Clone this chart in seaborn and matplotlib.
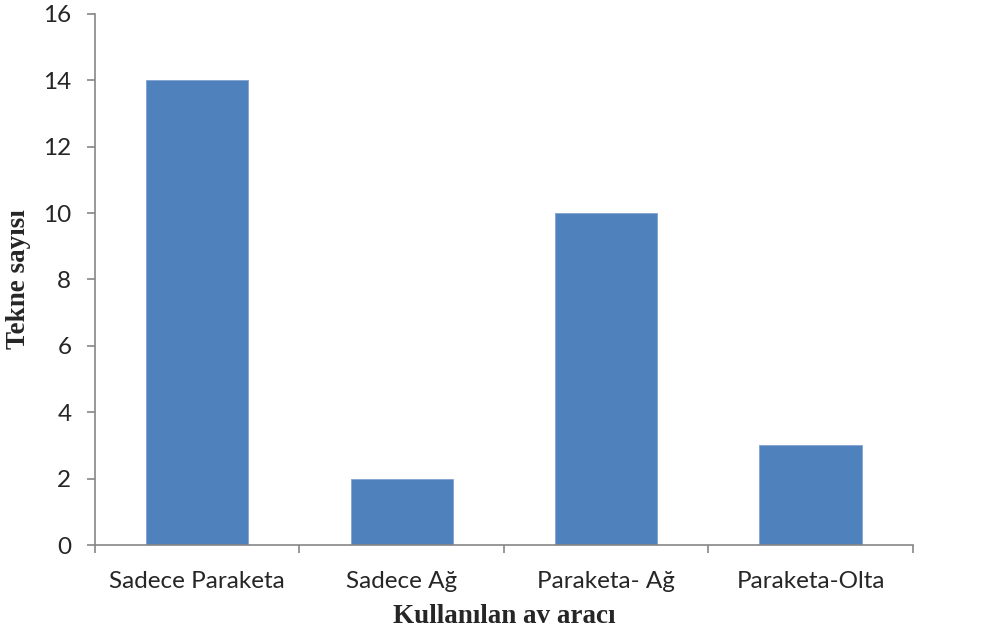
import matplotlib
matplotlib.use("Agg")
import matplotlib.pyplot as plt
import seaborn as sns
import pandas as pd

# data
categories = ["Sadece Paraketa", "Sadece Ağ", "Paraketa- Ağ", "Paraketa-Olta"]
boat_counts = [14, 2, 10, 3]
y_ticks = [0, 2, 4, 6, 8, 10, 12, 14, 16]

df = pd.DataFrame({"Kullanılan av aracı": categories, "Tekne sayısı": boat_counts})

sns.set_style("white")
plt.rcParams["font.family"] = ["Lato", "DejaVu Sans"]

fig = plt.figure(figsize=(10.04, 6.35), dpi=100)
ax = fig.add_axes([0.0946, 0.1417, 0.8146, 0.8363])

sns.barplot(
    data=df, x="Kullanılan av aracı", y="Tekne sayısı", color="#4F81BD",
    saturation=1, width=0.5, edgecolor="#7FA3D0", linewidth=0.6, ax=ax
)  # draws the bars

ax.set_xlim(-0.5, len(categories) - 0.5)
ax.set_ylim(0, 16)
ax.set_yticks(y_ticks)

# x ticks sit on category boundaries, like in excel charts
ax.set_xticks([i - 0.5 for i in range(len(categories) + 1)], minor=True)
ax.tick_params(axis="x", which="major", length=0, pad=19, labelsize=17.5)
ax.tick_params(axis="x", which="minor", length=6, width=1.2, color="#868686", direction="out", bottom=True)
ax.tick_params(axis="y", length=6, width=1.2, color="#868686", direction="out", left=True, labelsize=17.5, pad=11)

for side in ["top", "right"]:
    ax.spines[side].set_visible(False)
for side in ["left", "bottom"]:
    ax.spines[side].set_color("#868686")
    ax.spines[side].set_linewidth(1.2)

ax.set_xlabel("Kullanılan av aracı", family="Liberation Serif", fontweight="bold", fontsize=19.5, labelpad=8)
ax.set_ylabel("Tekne sayısı", family="Liberation Serif", fontweight="bold", fontsize=19.5, labelpad=9)

plt.savefig("out.png", dpi=100)
